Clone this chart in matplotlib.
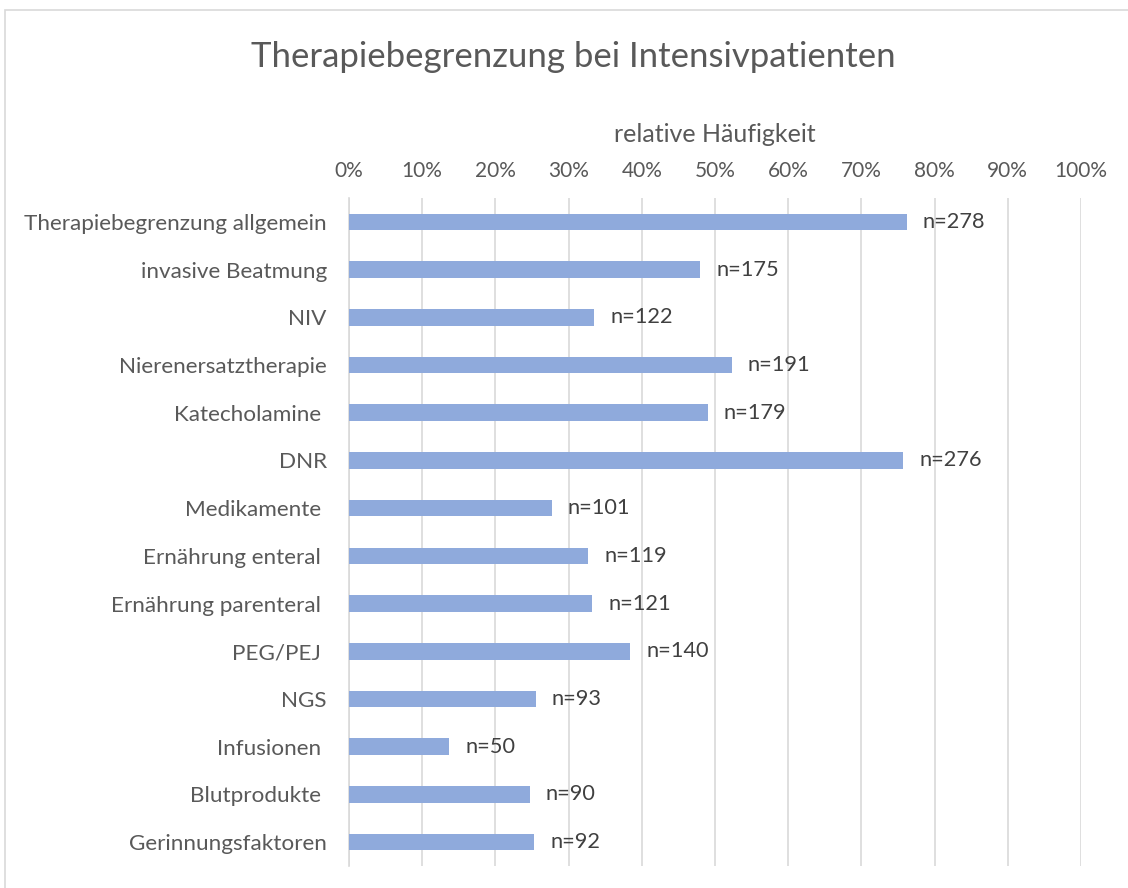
import matplotlib.pyplot as plt
from matplotlib.patches import Rectangle

plt.rcParams['font.family'] = ['Lato', 'DejaVu Sans']

# categories top to bottom, trailing spaces as in the original labels
categories = ['Therapiebegrenzung allgemein', 'invasive Beatmung', 'NIV',
              'Nierenersatztherapie', 'Katecholamine ', 'DNR', 'Medikamente ',
              'Ernährung enteral ', 'Ernährung parenteral ', 'PEG/PEJ ', 'NGS',
              'Infusionen ', 'Blutprodukte ', 'Gerinnungsfaktoren']
# relative frequency (fraction)
shares = [0.762, 0.480, 0.335, 0.523, 0.490, 0.757, 0.277,
          0.327, 0.332, 0.384, 0.255, 0.137, 0.247, 0.253]
counts = [278, 175, 122, 191, 179, 276, 101, 119, 121, 140, 93, 50, 90, 92]
xticks = [0, 0.1, 0.2, 0.3, 0.4, 0.5, 0.6, 0.7, 0.8, 0.9, 1.0]

txt = '#595959'
grid = '#D9D9D9'

fig = plt.figure(figsize=(11.28, 8.88), dpi=100)
# chart frame (runs off the right and bottom edge)
fig.patches.append(Rectangle((5 / 1128, -0.05), 1.2, 1 - 10 / 888 + 0.05,
                             transform=fig.transFigure, fill=False,
                             edgecolor=grid, lw=1.2))

ax = fig.add_axes([349 / 1128, 1 - 866 / 888, (1081 - 349) / 1128, (866 - 198) / 888])

ypos = list(range(len(categories)))
ax.barh(ypos, shares, height=0.35, color='#8FAADC', zorder=3)
for y, s, n in zip(ypos, shares, counts):
    ax.annotate('n=%d' % n, (s, y), xytext=(16, 0), textcoords='offset pixels',
                va='center', ha='left', fontsize=15.7, color='#404040')

ax.set_ylim(len(categories) - 0.5, -0.5)
ax.set_xlim(0, 1)
ax.set_yticks(ypos)
ax.set_yticklabels(categories, fontsize=16.2, color=txt)
ax.set_xticks(xticks)
ax.set_xticklabels(['%d%%' % round(t * 100) for t in xticks], fontsize=15, color=txt)
ax.xaxis.tick_top()
ax.xaxis.set_label_position('top')
ax.tick_params(axis='both', length=0)
ax.tick_params(axis='x', pad=12)
ax.tick_params(axis='y', pad=16)
ax.grid(axis='x', color=grid, lw=1.2, zorder=0)
for side in ['top', 'right', 'bottom']:
    ax.spines[side].set_visible(False)
ax.spines['left'].set_color(grid)
ax.spines['left'].set_linewidth(1.2)

ax.set_xlabel('relative Häufigkeit', fontsize=18, color=txt, labelpad=14)
fig.text(573 / 1128, 1 - 57 / 888, 'Therapiebegrenzung bei Intensivpatienten',
         ha='center', va='center', fontsize=25, color=txt)

fig.savefig('out.png', dpi=100)
